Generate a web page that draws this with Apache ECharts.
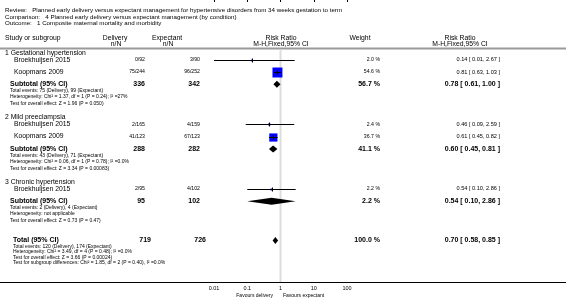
<!DOCTYPE html>
<html lang="en" style="height: 100%">
<head>
  <meta charset="utf-8">
</head>
<body style="height: 100%; margin: 0">
  <div id="container" style="width: 566px; height: 300px"></div>

  <script type="text/javascript" src="https://fastly.jsdelivr.net/npm/echarts@6.0.0/dist/echarts.min.js"></script>
  <script type="text/javascript">
// ---- data ----
var titleLines = [
  'Review:   Planned early delivery versus expectant management for hypertensive disorders from 34 weeks gestation to term',
  'Comparison:   4 Planned early delivery versus expectant management (by condition)',
  'Outcome:   1 Composite maternal mortality and morbidity'
];
var groupNames = ['1 Gestational hypertension', '2 Mild preeclampsia', '3 Chronic hypertension'];

var studyNames = ['Broekhuijsen 2015', 'Koopmans 2009', 'Broekhuijsen 2015', 'Koopmans 2009', 'Broekhuijsen 2015'];
var studyGroup = [0, 0, 1, 1, 2];
var studyDelivery = ['0/92', '75/244', '2/165', '41/123', '2/95'];
var studyExpectant = ['3/90', '96/252', '4/159', '67/123', '4/102'];
var studyWeight = [2.0, 54.6, 2.4, 36.7, 2.2];
var studyRR = [0.14, 0.81, 0.46, 0.61, 0.54];
var studyLow = [0.01, 0.63, 0.09, 0.45, 0.10];
var studyHigh = [2.67, 1.03, 2.59, 0.82, 2.86];

var subDelivery = [336, 288, 95];
var subExpectant = [342, 282, 102];
var subWeight = [56.7, 41.1, 2.2];
var subRR = [0.78, 0.60, 0.54];
var subLow = [0.61, 0.45, 0.10];
var subHigh = [1.00, 0.81, 2.86];
var subNotes = [
  ['Total events: 75 (Delivery), 99 (Expectant)',
   'Heterogeneity: Chi² = 1.37, df = 1 (P = 0.24); I² =27%',
   'Test for overall effect: Z = 1.96 (P = 0.050)'],
  ['Total events: 43 (Delivery), 71 (Expectant)',
   'Heterogeneity: Chi² = 0.06, df = 1 (P = 0.78); I² =0.0%',
   'Test for overall effect: Z = 3.34 (P = 0.00083)'],
  ['Total events: 2 (Delivery), 4 (Expectant)',
   'Heterogeneity: not applicable',
   'Test for overall effect: Z = 0.73 (P = 0.47)']
];

var totalDelivery = 719;
var totalExpectant = 726;
var totalWeight = 100.0;
var totalRR = [0.70, 0.58, 0.85];
var totalNotes = [
  'Total events: 120 (Delivery), 174 (Expectant)',
  'Heterogeneity: Chi² = 3.49, df = 4 (P = 0.48); I² =0.0%',
  'Test for overall effect: Z = 3.66 (P = 0.00024)',
  'Test for subgroup differences: Chi² = 1.85, df = 2 (P = 0.40), I² =0.0%'
];
var favourLabels = ['Favours delivery', 'Favours expectant'];

// ---- layout ----
var FONT = '"Liberation Sans", Arial, sans-serif';
var fTitle = '6.2px ' + FONT;
var fHead = '6.8px ' + FONT;
var fName = '6.8px ' + FONT;
var fSmall = '5px ' + FONT;
var fData = '5.2px ' + FONT;
var fCI = '5.6px ' + FONT;
var fBold = 'bold 7px ' + FONT;
var axisY = 282;

function fmt(v) { return v.toFixed(2); }
function ci(rr, lo, hi) { return fmt(rr) + ' [ ' + fmt(lo) + ', ' + fmt(hi) + ' ]'; }
function txt(x, y, s, font, align) {
  return {
    type: 'text', x: x, y: y, silent: true,
    style: { text: s, font: font, fill: '#000', align: align || 'left', verticalAlign: 'middle',
             textAlign: align || 'left', textVerticalAlign: 'middle' }
  };
}

var g = [];
titleLines.forEach(function (s, i) { g.push(txt(5, 10 + i * 6.8, s, fTitle)); });
g.push(txt(5, 38, 'Study or subgroup', fHead));
g.push(txt(115, 38, 'Delivery', fHead, 'center'));
g.push(txt(116, 44, 'n/N', fHead, 'center'));
g.push(txt(167, 38, 'Expectant', fHead, 'center'));
g.push(txt(168, 44, 'n/N', fHead, 'center'));
g.push(txt(281, 38, 'Risk Ratio', fHead, 'center'));
g.push(txt(281, 44, 'M-H,Fixed,95% CI', fHead, 'center'));
g.push(txt(360, 38, 'Weight', fHead, 'center'));
g.push(txt(460, 38, 'Risk Ratio', fHead, 'center'));
g.push(txt(460, 44, 'M-H,Fixed,95% CI', fHead, 'center'));
g.push({ type: 'line', silent: true, shape: { x1: 0, y1: 48.5, x2: 566, y2: 48.5 }, style: { stroke: '#9a9a9a', lineWidth: 2 } });
g.push({ type: 'line', silent: true, shape: { x1: 0, y1: axisY + 0.5, x2: 566, y2: axisY + 0.5 }, style: { stroke: '#000', lineWidth: 1 } });

var studyData = [];
var diamondData = [];
var cur = 53;
var lastNote = 0;
groupNames.forEach(function (name, gi) {
  g.push(txt(5, cur, name, fName));
  cur += 6.7;
  studyNames.forEach(function (sn, i) {
    if (studyGroup[i] !== gi) return;
    g.push(txt(14, cur, sn, fName));
    g.push(txt(145, cur, studyDelivery[i], fData, 'right'));
    g.push(txt(200, cur, studyExpectant[i], fData, 'right'));
    g.push(txt(380, cur, studyWeight[i].toFixed(1) + ' %', fData, 'right'));
    g.push(txt(500, cur, ci(studyRR[i], studyLow[i], studyHigh[i]), fCI, 'right'));
    studyData.push([studyRR[i], studyLow[i], studyHigh[i], cur, studyWeight[i]]);
    cur += 12.3;
  });
  g.push(txt(10, cur, 'Subtotal (95% CI)', fBold));
  g.push(txt(145, cur, String(subDelivery[gi]), fBold, 'right'));
  g.push(txt(200, cur, String(subExpectant[gi]), fBold, 'right'));
  g.push(txt(380, cur, subWeight[gi].toFixed(1) + ' %', fBold, 'right'));
  g.push(txt(500, cur, ci(subRR[gi], subLow[gi], subHigh[gi]), fBold, 'right'));
  diamondData.push([subRR[gi], subLow[gi], subHigh[gi], cur]);
  subNotes[gi].forEach(function (s, k) {
    lastNote = cur + 6.3 + k * 6.5;
    g.push(txt(10, lastNote, s, fSmall));
  });
  cur = lastNote + 14;
});
var totalY = lastNote + 20;
g.push(txt(13, totalY, 'Total (95% CI)', fBold));
g.push(txt(151, totalY, String(totalDelivery), fBold, 'right'));
g.push(txt(206, totalY, String(totalExpectant), fBold, 'right'));
g.push(txt(380, totalY, totalWeight.toFixed(1) + ' %', fBold, 'right'));
g.push(txt(500, totalY, ci(totalRR[0], totalRR[1], totalRR[2]), fBold, 'right'));
diamondData.push([totalRR[0], totalRR[1], totalRR[2], totalY]);
totalNotes.forEach(function (s, k) { g.push(txt(13, totalY + 5.7 + k * 5.6, s, fSmall)); });
g.push(txt(273, 296, favourLabels[0], fSmall, 'right'));
g.push(txt(283, 296, favourLabels[1], fSmall, 'left'));

function px(v) { return Math.round(v) + 0.5; }

var dom = document.getElementById('container');
var myChart = echarts.init(dom, null, { renderer: 'canvas' });
var option = {
  animation: false,
  grid: { left: 214, width: 133, top: 0, height: axisY },
  xAxis: {
    type: 'log', logBase: 10, min: 0.01, max: 100,
    axisLine: { show: false },
    axisTick: { show: true, length: 2, lineStyle: { color: '#000', width: 1 } },
    axisLabel: {
      fontSize: 5.5, color: '#000', margin: 3, fontFamily: FONT,
      formatter: function (v) { return String(+(+v).toPrecision(2)); }
    },
    splitLine: { show: false }
  },
  yAxis: { type: 'value', min: 0, max: axisY, inverse: true, show: false },
  series: [
    {
      // line of no effect at RR = 1
      type: 'custom', z: 1, silent: true,
      data: [[1, 49.5]],
      encode: { x: 0, y: 1 },
      renderItem: function (params, api) {
        var top = api.coord([api.value(0), api.value(1)]);
        var bot = api.coord([api.value(0), axisY]);
        return { type: 'line', shape: { x1: top[0], y1: top[1], x2: bot[0], y2: bot[1] },
                 style: { stroke: '#dcdcdc', lineWidth: 2 } };
      }
    },
    {
      type: 'custom', z: 3, silent: true,
      data: studyData,
      encode: { x: [0, 1, 2], y: 3 },
      renderItem: function (params, api) {
        var y = api.value(3);
        var pe = api.coord([api.value(0), y]);
        var pl = api.coord([api.value(1), y]);
        var ph = api.coord([api.value(2), y]);
        var s = 13.5 * Math.sqrt(api.value(4) / 100);
        var cy = px(pe[1]);
        return {
          type: 'group', children: [
            { type: 'rect', shape: { x: pe[0] - s / 2, y: cy - s / 2, width: s, height: s }, style: { fill: '#0000ff' } },
            { type: 'line', shape: { x1: pl[0], y1: cy, x2: ph[0], y2: cy }, style: { stroke: '#000', lineWidth: 1 } },
            { type: 'line', shape: { x1: px(pe[0]), y1: cy - 2, x2: px(pe[0]), y2: cy + 2 }, style: { stroke: '#000', lineWidth: 1 } }
          ]
        };
      }
    },
    {
      type: 'custom', z: 3, silent: true,
      data: diamondData,
      encode: { x: [0, 1, 2], y: 3 },
      renderItem: function (params, api) {
        var y = api.value(3);
        var pe = api.coord([api.value(0), y]);
        var pl = api.coord([api.value(1), y]);
        var ph = api.coord([api.value(2), y]);
        var h = 3.5;
        return {
          type: 'polygon',
          shape: { points: [[pl[0], pe[1]], [pe[0], pe[1] - h], [ph[0], pe[1]], [pe[0], pe[1] + h]] },
          style: { fill: '#000' }
        };
      }
    }
  ],
  graphic: g
};
myChart.setOption(option);
window.addEventListener('resize', myChart.resize);
  </script>
</body>
</html>
